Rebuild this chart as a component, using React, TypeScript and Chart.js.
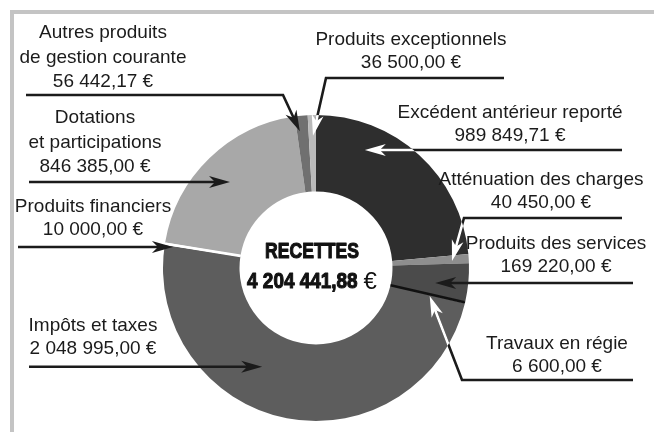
import React, { useEffect, useRef } from "react";
import { Chart, registerables } from "chart.js";

Chart.register(...registerables);

const categories = [
  "Excédent antérieur reporté",
  "Atténuation des charges",
  "Produits des services",
  "Travaux en régie",
  "Impôts et taxes",
  "Produits financiers",
  "Dotations et participations",
  "Autres produits de gestion courante",
  "Produits exceptionnels",
];
const values = [989849.71, 40450, 169220, 6600, 2048995, 10000, 846385, 56442.17, 36500];
const sliceColors = ["#2e2e2e", "#8e8e8e", "#4b4b4b", "#111111", "#5d5d5d", "#ffffff", "#a8a8a8", "#707070", "#bababa"];
// extra stroke width along the centre line of very thin slices (0 = none)
const sliceStroke = [0, 0, 0, 2.6, 0, 2.6, 0, 0, 0];
const labelLines = [
  ["Excédent antérieur reporté"],
  ["Atténuation des charges"],
  ["Produits des services"],
  ["Travaux en régie"],
  ["Impôts et taxes"],
  ["Produits financiers"],
  ["Dotations", "et participations"],
  ["Autres produits", "de gestion courante"],
  ["Produits exceptionnels"],
];
const centerTitle = "RECETTES";

// layout of annotations (text anchor, leader path, arrow tip position inside slice)
const labelLayout = [
  { cx: 510, y: 113, lh: 22.5, da: -19.9, g: 0.67, path: [[622, null]], white: true },
  { cx: 541, y: 180, lh: 23, da: 0.56, g: 0.78, path: [[622, 218], [464, 218]], white: true },
  { cx: 556, y: 244, lh: 23, da: 1.7, g: 0.57, path: [[633, null]], white: false },
  { cx: 557, y: 344, lh: 22.5, da: 0.8, g: 0.53, path: [[633, 380], [462, 380]], white: true },
  { cx: 93, y: 326, lh: 22.5, da: 17.6, g: 0.47, path: [[29, null]], white: false },
  { cx: 93, y: 207, lh: 22.5, da: -0.8, g: 0.89, path: [[18, null]], white: false },
  { cx: 95, y: 118, lh: 24.5, da: -0.8, g: 0.59, path: [[29, null]], white: false },
  { cx: 103, y: 33, lh: 24.5, da: -1.2, g: 0.8, path: [[26, 95], [283, 95]], white: false },
  { cx: 411, y: 40, lh: 23, da: 0.25, g: 0.73, path: [[504, 78], [326, 78]], white: true },
];

const fmtNum = (v: number) => {
  const [i, d] = v.toFixed(2).split(".");
  return i.replace(/\B(?=(\d{3})+(?!\d))/g, " ") + "," + d;
};
const fmt = (v: number) => fmtNum(v) + " €";

const INK = "#1b1b1b";
const LABEL_FONT = '19px "Liberation Sans", Arial, sans-serif';
const BOLD_FONT = 'bold 22px "Liberation Sans", Arial, sans-serif';
const EURO_FONT = '24px "Liberation Sans", Arial, sans-serif';

const framePlugin = {
  id: "frame",
  beforeDraw(chart: any) {
    const ctx = chart.ctx;
    ctx.save();
    ctx.fillStyle = "#ffffff";
    ctx.fillRect(0, 0, chart.width, chart.height);
    ctx.fillStyle = "#c4c4c4";
    ctx.fillRect(10, 10, chart.width - 10, 4);
    ctx.fillRect(10, 10, 4, chart.height - 10);
    ctx.restore();
  },
  afterDatasetsDraw(chart: any) {
    const ctx = chart.ctx;
    const arcs = chart.getDatasetMeta(0).data;
    ctx.save();
    ctx.lineCap = "butt";
    arcs.forEach((arc: any, i: number) => {
      if (!sliceStroke[i]) return;
      const a = (arc.startAngle + arc.endAngle) / 2;
      ctx.strokeStyle = sliceColors[i];
      ctx.lineWidth = sliceStroke[i];
      ctx.beginPath();
      ctx.moveTo(arc.x + arc.innerRadius * Math.cos(a), arc.y + arc.innerRadius * Math.sin(a));
      ctx.lineTo(arc.x + (arc.outerRadius - 0.5) * Math.cos(a), arc.y + (arc.outerRadius - 0.5) * Math.sin(a));
      ctx.stroke();
    });
    ctx.restore();
  },
};

function drawHead(ctx: any, tip: any, from: any, color: string) {
  const dx = tip.x - from.x;
  const dy = tip.y - from.y;
  const len = Math.hypot(dx, dy) || 1;
  const ux = dx / len;
  const uy = dy / len;
  const nx = -uy;
  const ny = ux;
  const L = 21;
  const w = 6;
  const notch = 15;
  ctx.beginPath();
  ctx.moveTo(tip.x, tip.y);
  ctx.lineTo(tip.x - ux * L + nx * w, tip.y - uy * L + ny * w);
  ctx.lineTo(tip.x - ux * notch, tip.y - uy * notch);
  ctx.lineTo(tip.x - ux * L - nx * w, tip.y - uy * L - ny * w);
  ctx.closePath();
  ctx.fillStyle = color;
  ctx.fill();
}

function drawScaled(ctx: any, text: string, x: number, y: number, sx: number) {
  ctx.save();
  ctx.translate(x, y);
  ctx.scale(sx, 1);
  ctx.lineWidth = 1.1;
  ctx.lineJoin = "round";
  ctx.strokeStyle = ctx.fillStyle;
  ctx.strokeText(text, 0, 0);
  ctx.fillText(text, 0, 0);
  ctx.restore();
}

const annotationPlugin = {
  id: "annotations",
  afterDraw(chart: any) {
    const ctx = chart.ctx;
    const meta = chart.getDatasetMeta(0);
    const arcs = meta.data;
    if (!arcs.length) return;
    const a0 = arcs[0];
    const cxC = a0.x;
    const cyC = a0.y;
    const rIn = a0.innerRadius;
    const rOut = a0.outerRadius;

    const arrows = labelLayout.map((lay, i) => {
      const arc = arcs[i];
      const ang = (arc.startAngle + arc.endAngle) / 2 + (lay.da * Math.PI) / 180;
      const r = arc.innerRadius + lay.g * (arc.outerRadius - arc.innerRadius);
      const tip = { x: arc.x + r * Math.cos(ang), y: arc.y + r * Math.sin(ang) };
      const pts = lay.path.map((p: any) => ({ x: p[0], y: p[1] == null ? tip.y : p[1] }));
      pts.push(tip);
      return { pts, tip, white: lay.white };
    });

    const shaftPath = (pts: any[]) => {
      const n = pts.length;
      const tip = pts[n - 1];
      const prev = pts[n - 2];
      const dx = tip.x - prev.x;
      const dy = tip.y - prev.y;
      const len = Math.hypot(dx, dy) || 1;
      const end = { x: tip.x - (dx / len) * 14, y: tip.y - (dy / len) * 14 };
      ctx.beginPath();
      ctx.moveTo(pts[0].x, pts[0].y);
      for (let k = 1; k < n - 1; k++) ctx.lineTo(pts[k].x, pts[k].y);
      ctx.lineTo(end.x, end.y);
    };

    ctx.save();
    ctx.lineWidth = 2.6;
    ctx.lineJoin = "miter";
    ctx.lineCap = "butt";
    ctx.strokeStyle = INK;
    arrows.forEach((a) => {
      shaftPath(a.pts);
      ctx.stroke();
    });
    // white part of shafts inside ring
    ctx.save();
    ctx.beginPath();
    ctx.arc(cxC, cyC, rOut, 0, Math.PI * 2);
    ctx.arc(cxC, cyC, rIn, 0, Math.PI * 2, true);
    ctx.clip();
    ctx.strokeStyle = "#ffffff";
    arrows.forEach((a) => {
      if (!a.white) return;
      shaftPath(a.pts);
      ctx.stroke();
    });
    ctx.restore();
    arrows.forEach((a) => {
      const n = a.pts.length;
      drawHead(ctx, a.pts[n - 1], a.pts[n - 2], a.white ? "#ffffff" : INK);
    });

    // labels
    ctx.fillStyle = INK;
    ctx.font = LABEL_FONT;
    ctx.textAlign = "center";
    ctx.textBaseline = "middle";
    labelLayout.forEach((lay, i) => {
      const lines = [...labelLines[i], fmt(values[i])];
      lines.forEach((t, k) => ctx.fillText(t, lay.cx, lay.y + k * lay.lh));
    });

    // centre text (condensed heavy)
    const total = values.reduce((s, v) => s + v, 0);
    const titleScale = 0.8;
    const numScale = 0.86;
    ctx.fillStyle = "#111111";
    ctx.font = BOLD_FONT;
    ctx.textAlign = "center";
    drawScaled(ctx, centerTitle, cxC - 4, cyC - 16, titleScale);
    const num = fmtNum(total);
    ctx.font = BOLD_FONT;
    const wNum = ctx.measureText(num).width * numScale;
    ctx.font = EURO_FONT;
    const wEur = ctx.measureText("€").width;
    const gap = 6;
    const startX = cxC - 4 - (wNum + gap + wEur) / 2;
    ctx.textAlign = "left";
    ctx.font = BOLD_FONT;
    drawScaled(ctx, num, startX, cyC + 14, numScale);
    ctx.font = EURO_FONT;
    ctx.fillText("€", startX + wNum + gap, cyC + 14);
    ctx.restore();
  },
};

export default function App() {
  const ref = useRef<HTMLCanvasElement | null>(null);
  useEffect(() => {
    if (!ref.current) return;
    const chart = new Chart(ref.current, {
      type: "doughnut",
      data: {
        labels: categories,
        datasets: [
          {
            data: values,
            backgroundColor: sliceColors,
            borderWidth: 0,
            hoverBorderWidth: 0,
            offset: 0,
            hoverOffset: 0,
          },
        ],
      },
      options: {
        responsive: false,
        animation: false,
        cutout: "50%",
        layout: { padding: { left: 163, right: 185, top: 115, bottom: 11 } },
        plugins: { legend: { display: false }, tooltip: { enabled: false } },
        events: [],
      },
      plugins: [framePlugin, annotationPlugin],
    } as any);
    return () => chart.destroy();
  }, []);
  return (
    <div style={{ position: "fixed", left: 0, top: 0, width: 654, height: 432, background: "#fff" }}>
      <canvas ref={ref} width={654} height={432} style={{ display: "block", width: 654, height: 432 }} />
    </div>
  );
}
